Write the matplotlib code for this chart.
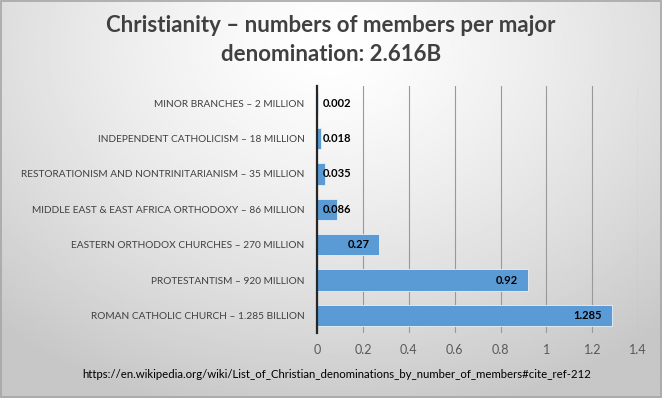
import numpy as np
import matplotlib
matplotlib.use("Agg")
import matplotlib.pyplot as plt

plt.rcParams['font.family'] = ['Lato', 'DejaVu Sans']

categories = ["MINOR BRANCHES \u2013 2 MILLION",
              "INDEPENDENT CATHOLICISM \u2013 18 MILLION",
              "RESTORATIONISM AND NONTRINITARIANISM \u2013 35 MILLION",
              "MIDDLE EAST & EAST AFRICA ORTHODOXY \u2013 86 MILLION",
              "EASTERN ORTHODOX CHURCHES \u2013 270 MILLION",
              "PROTESTANTISM \u2013 920 MILLION",
              "ROMAN CATHOLIC CHURCH \u2013 1.285 BILLION"]
values = [0.002, 0.018, 0.035, 0.086, 0.27, 0.92, 1.285]
value_labels = ["0.002", "0.018", "0.035", "0.086", "0.27", "0.92", "1.285"]
xticks = [0, 0.2, 0.4, 0.6, 0.8, 1, 1.2, 1.4]
xtick_labels = ["0", "0.2", "0.4", "0.6", "0.8", "1", "1.2", "1.4"]

fig = plt.figure(figsize=(6.62, 3.98), dpi=100)

# background: soft radial grey gradient like the Excel chart area
bg = fig.add_axes([0, 0, 1, 1], zorder=-10)
yy, xx = np.mgrid[0:1:200j, 0:1:330j]
r = np.sqrt(((xx - 0.5) / 0.75) ** 2 + ((yy - 0.12) / 0.95) ** 2)
shade = 1.0 - 0.22 * np.clip(r, 0, 1) ** 1.3
bg.imshow(shade, cmap='gray', vmin=0, vmax=1, aspect='auto', extent=[0, 1, 0, 1], origin='upper')
bg.set_xlim(0, 1)
bg.set_ylim(0, 1)
bg.axis('off')
bg.add_patch(plt.Rectangle((0.001, 0.003), 0.997, 0.994, fill=False, edgecolor='#a6a6a6', lw=1.2))

ax = fig.add_axes([0.479, 0.163, 0.485, 0.622])
ax.patch.set_alpha(0)
y = np.arange(len(categories))[::-1]
ax.barh(y, values, height=0.6, color='#5b9bd5', edgecolor='#e9f0f8', linewidth=0.6, zorder=3)
ax.set_xlim(0, 1.4)
ax.set_ylim(-0.5, len(categories) - 0.5)
ax.set_xticks(xticks)
ax.set_xticklabels(xtick_labels)
ax.set_yticks(y)
ax.set_yticklabels(categories)
ax.tick_params(axis='x', length=0, labelsize=9, labelcolor='#595959', pad=8)
ax.tick_params(axis='y', length=0, labelsize=7.3, labelcolor='#404040', pad=9)
ax.grid(axis='x', color='#999999', linewidth=0.8, zorder=0)
for s in ['top', 'right', 'bottom']:
    ax.spines[s].set_visible(False)
ax.spines['left'].set_color('#262626')
ax.spines['left'].set_linewidth(1.6)
ax.spines['left'].set_zorder(4)

# data labels at the inside end, pushed right when the bar is too short
px_per_unit = ax.get_position().width * fig.get_figwidth() * fig.dpi / 1.4
for yi, v, lab in zip(y, values, value_labels):
    if v * px_per_unit < 45:
        ax.annotate(lab, (0, yi), xytext=(4, 0), textcoords='offset points',
                    ha='left', va='center', fontsize=8, fontweight='bold', color='black', zorder=5)
    else:
        ax.annotate(lab, (v, yi), xytext=(-7, 0), textcoords='offset points',
                    ha='right', va='center', fontsize=8, fontweight='bold', color='black', zorder=5)

fig.text(0.5, 0.935, "Christianity \u2013 numbers of members per major", ha='center', va='center',
         fontsize=16, fontweight='bold', color='#404040')
fig.text(0.5, 0.862, "denomination: 2.616B", ha='center', va='center',
         fontsize=16, fontweight='bold', color='#404040')
fig.text(0.508, 0.058,
         "https://en.wikipedia.org/wiki/List_of_Christian_denominations_by_number_of_members#cite_ref-212",
         ha='center', va='center', fontsize=8.2, color='black')

fig.savefig("out.png", dpi=100)
